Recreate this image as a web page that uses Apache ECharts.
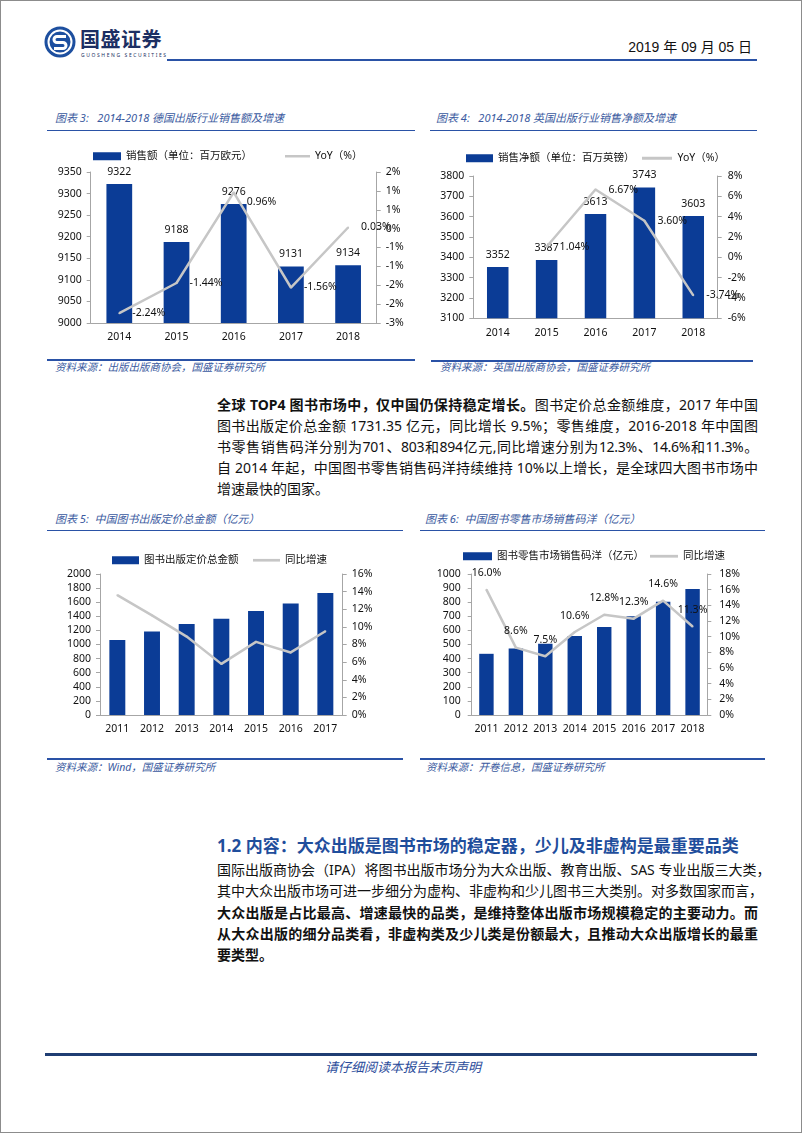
<!DOCTYPE html>
<html>
<head>
<meta charset="utf-8">
<script src="https://cdn.jsdelivr.net/npm/echarts@6/dist/echarts.min.js"></script>
<style>
  html, body { margin:0; padding:0; background:#fff; }
  body { width:802px; height:1133px; position:relative; overflow:hidden;
         font-family:"Noto Sans","Noto Sans CJK SC",sans-serif; }
  .abs { position:absolute; }
  .frame { left:0; top:0; width:802px; height:1133px; box-sizing:border-box; border:1px solid #8c8c8c; }
  .hline { position:absolute; background:#2a52a6; }
  .ctitle { position:absolute; font-size:11px; font-style:italic; color:#3a5aa0; white-space:nowrap; line-height:14px; }
  .src { position:absolute; font-size:10.5px; font-style:italic; color:#3a5aa0; white-space:nowrap; line-height:14px; }
  .chart { position:absolute; width:380px; height:220px; }
  .pl { position:absolute; left:217px; width:541px; height:21px; line-height:21px; font-size:14px; color:#111;
        white-space:nowrap; text-align:justify; text-align-last:justify; }
  .pl.last { text-align:left; text-align-last:left; }
  .pl b { font-weight:700; }
</style>
</head>
<body>
<div class="abs frame"></div>

<!-- header -->
<svg class="abs" style="left:44px;top:26px" width="32" height="32" viewBox="0 0 32 32">
  <circle cx="16" cy="16" r="15.5" fill="#1d4f9f"/>
  <circle cx="16" cy="16" r="11.5" fill="none" stroke="#fff" stroke-width="2"/>
  <path d="M22 10.5 H13 a3 3 0 0 0 0 6 H19 a3 3 0 0 1 0 6 H10" fill="none" stroke="#fff" stroke-width="3"/>
</svg>
<div class="abs" style="left:80px;top:28px;font-size:20px;font-weight:700;color:#1c2f63;letter-spacing:0.5px;line-height:24px;">国盛证券</div>
<div class="abs" style="left:81px;top:52px;font-size:5px;color:#1c2f63;letter-spacing:1.6px;line-height:6px;white-space:nowrap;">GUOSHENG SECURITIES</div>
<div class="abs" style="left:600px;width:152px;top:38px;text-align:right;font-size:14px;color:#111;line-height:18px;white-space:nowrap;font-family:'Liberation Sans','Noto Sans CJK SC',sans-serif;">2019 年 09 月 05 日</div>
<div class="hline" style="left:167px;top:59px;width:590px;height:2px;"></div>

<!-- chart 3 / 4 frames -->
<div class="ctitle" style="left:55px;top:111px;">图表 3:&nbsp;&nbsp;&nbsp;2014-2018 德国出版行业销售额及增速</div>
<div class="hline" style="left:47px;top:130px;width:368px;height:1px;"></div>
<div class="ctitle" style="left:436px;top:111px;">图表 4:&nbsp;&nbsp;&nbsp;2014-2018 英国出版行业销售净额及增速</div>
<div class="hline" style="left:430px;top:130px;width:327px;height:1px;"></div>
<div id="c3" class="chart" style="left:40px;top:135px;"></div>
<div id="c4" class="chart" style="left:420px;top:135px;"></div>
<div class="hline" style="left:47px;top:359px;width:368px;height:2px;"></div>
<div class="src" style="left:55px;top:360px;">资料来源：出版出版商协会，国盛证券研究所</div>
<div class="hline" style="left:431px;top:360px;width:322px;height:2px;"></div>
<div class="src" style="left:440px;top:360px;">资料来源：英国出版商协会，国盛证券研究所</div>

<!-- paragraph 1 -->
<div class="pl" style="top:394px;"><b>全球 TOP4 图书市场中，仅中国仍保持稳定增长。</b>图书定价总金额维度，2017 年中国</div>
<div class="pl" style="top:415px;">图书出版定价总金额 1731.35 亿元，同比增长 9.5%；零售维度，2016-2018 年中国图</div>
<div class="pl" style="top:436px;letter-spacing:-0.3px;">书零售销售码洋分别为701、803和894亿元,同比增速分别为12.3%、14.6%和11.3%。</div>
<div class="pl" style="top:457px;">自 2014 年起，中国图书零售销售码洋持续维持 10%以上增长，是全球四大图书市场中</div>
<div class="pl last" style="top:478px;">增速最快的国家。</div>

<!-- chart 5 / 6 frames -->
<div class="ctitle" style="left:55px;top:512px;">图表 5:&nbsp;&nbsp;中国图书出版定价总金额（亿元）</div>
<div class="hline" style="left:47px;top:530px;width:356px;height:1px;"></div>
<div class="ctitle" style="left:425px;top:512px;">图表 6:&nbsp;&nbsp;中国图书零售市场销售码洋（亿元）</div>
<div class="hline" style="left:420px;top:530px;width:345px;height:1px;"></div>
<div id="c5" class="chart" style="left:40px;top:535px;"></div>
<div id="c6" class="chart" style="left:420px;top:535px;"></div>
<div class="hline" style="left:47px;top:758px;width:356px;height:2px;"></div>
<div class="src" style="left:55px;top:760px;">资料来源：Wind，国盛证券研究所</div>
<div class="hline" style="left:420px;top:758px;width:345px;height:2px;"></div>
<div class="src" style="left:426px;top:760px;">资料来源：开卷信息，国盛证券研究所</div>

<!-- section 1.2 -->
<div class="abs" style="left:217px;top:834px;font-size:17px;font-weight:700;color:#1f4e9c;white-space:nowrap;line-height:24px;">1.2 内容：大众出版是图书市场的稳定器，少儿及非虚构是最重要品类</div>
<div class="pl" style="top:859px;">国际出版商协会（IPA）将图书出版市场分为大众出版、教育出版、SAS 专业出版三大类，</div>
<div class="pl" style="top:880px;">其中大众出版市场可进一步细分为虚构、非虚构和少儿图书三大类别。对多数国家而言，</div>
<div class="pl" style="top:902px;"><b>大众出版是占比最高、增速最快的品类，是维持整体出版市场规模稳定的主要动力。而</b></div>
<div class="pl" style="top:923px;"><b>从大众出版的细分品类看，非虚构类及少儿类是份额最大，且推动大众出版增长的最重</b></div>
<div class="pl last" style="top:944px;"><b>要类型。</b></div>

<!-- footer -->
<div class="hline" style="left:45px;top:1053px;width:712px;height:3px;background:#1f3d73;"></div>
<div class="abs" style="left:250px;width:306px;top:1058px;text-align:center;font-size:13px;font-style:italic;color:#2b4c9b;line-height:18px;">请仔细阅读本报告末页声明</div>

<script>
// ---------- data ----------
const deYears = ['2014', '2015', '2016', '2017', '2018'];
const deSales = [9322, 9188, 9276, 9131, 9134];
const deYoY = [-2.24, -1.44, 0.96, -1.56, 0.03];

const ukYears = ['2014', '2015', '2016', '2017', '2018'];
const ukSales = [3352, 3387, 3613, 3743, 3603];
const ukYoY = [null, 1.04, 6.67, 3.60, -3.74];

const cnPubYears = ['2011', '2012', '2013', '2014', '2015', '2016', '2017'];
const cnPub = [1063.06, 1183.37, 1289.28, 1363.49, 1476.09, 1581.02, 1731.35];
const cnPubYoY = [13.6, 11.3, 8.9, 5.8, 8.3, 7.1, 9.5];

const cnRetailYears = ['2011', '2012', '2013', '2014', '2015', '2016', '2017', '2018'];
const cnRetail = [434, 471, 506, 560, 624, 701, 803, 894];
const cnRetailYoY = [16.0, 8.6, 7.5, 10.6, 12.8, 12.3, 14.6, 11.3];

// ---------- styles ----------
const BAR = '#0b3c96';
const LINE = '#c6c6c6';
const AX = '#a6a6a6';
const FONT = '"Noto Sans","Noto Sans CJK SC",sans-serif';
const NUM = { fontFamily: FONT, fontSize: 10.5, color: '#111' };

function yAxis(min, max, interval, fmt, margin, pos) {
  return {
    type: 'value', min, max, interval, position: pos,
    splitLine: { show: false },
    axisLine: { show: true, lineStyle: { color: AX, width: 1 } },
    axisTick: { show: true, length: 4, lineStyle: { color: AX } },
    axisLabel: Object.assign({ margin, formatter: fmt }, NUM)
  };
}
function xAxis(cats) {
  return {
    type: 'category', data: cats,
    axisLine: { show: true, onZero: false, lineStyle: { color: AX, width: 1 } },
    axisTick: { show: false },
    axisLabel: Object.assign({ margin: 9, interval: 0 }, NUM)
  };
}
function legends(barName, barLeft, barW, lineName, lineLeft, lineW, top) {
  const ts = { fontFamily: FONT, fontSize: 10.5, color: '#111' };
  return [
    { data: [{ name: barName, icon: 'rect' }], left: barLeft, top, padding: 0,
      itemWidth: barW, itemHeight: 8, textStyle: ts, selectedMode: false },
    { data: [{ name: lineName, icon: 'path://M0,0 H30 V3 H0 Z', itemStyle: { color: LINE, opacity: 1 } }],
      left: lineLeft, top, padding: 0,
      itemWidth: lineW, itemHeight: 3, textStyle: ts, selectedMode: false }
  ];
}
const roundPct = v => { const r = Math.sign(v) * Math.round(Math.abs(v)); return (r === 0 ? 0 : r) + '%'; };

function lineSeries(name, data, label) {
  const s = {
    name, type: 'line', yAxisIndex: 1, data,
    symbol: 'circle', symbolSize: 2, showSymbol: true, showAllSymbol: true,
    lineStyle: { color: LINE, width: 2.5 },
    itemStyle: { color: LINE },
    emphasis: { disabled: true }
  };
  if (label) s.label = label;
  return s;
}

// ---------- chart 3 ----------
echarts.init(document.getElementById('c3')).setOption({
  animation: false,
  legend: legends('销售额（单位：百万欧元）', 53, 28, 'YoY（%）', 245, 25, 16),
  grid: { left: 50.7, top: 37, width: 286, height: 151 },
  xAxis: xAxis(deYears),
  yAxis: [yAxis(9000, 9350, 50, v => v, 9, 'left'),
          yAxis(-2.5, 1.5, 0.5, roundPct, 9, 'right')],
  series: [
    { name: '销售额（单位：百万欧元）', type: 'bar', data: deSales, barWidth: '45%',
      itemStyle: { color: BAR },
      label: Object.assign({ show: true, position: 'top', distance: 7 }, NUM) },
    lineSeries('YoY（%）',
      deYoY.map((v, i) => i === 2 ? { value: v, label: { offset: [0, 10] } } : v),
      Object.assign({ show: true, position: 'right', distance: 12, formatter: p => p.value.toFixed(2) + '%' }, NUM))
  ]
});

// ---------- chart 4 ----------
echarts.init(document.getElementById('c4')).setOption({
  animation: false,
  legend: legends('销售净额（单位：百万英镑）', 46, 27, 'YoY（%）', 222, 31, 18),
  grid: { left: 53.3, top: 41, width: 244.4, height: 142.3 },
  xAxis: xAxis(ukYears),
  yAxis: [yAxis(3100, 3800, 100, v => v, 9, 'left'),
          yAxis(-6, 8, 2, v => v + '%', 10, 'right')],
  series: [
    { name: '销售净额（单位：百万英镑）', type: 'bar', data: ukSales, barWidth: '44%',
      itemStyle: { color: BAR },
      label: Object.assign({ show: true, position: 'top', distance: 7 }, NUM) },
    lineSeries('YoY（%）', ukYoY,
      Object.assign({ show: true, position: 'right', distance: 12, formatter: p => p.value.toFixed(2) + '%' }, NUM))
  ]
});

// ---------- chart 5 ----------
echarts.init(document.getElementById('c5')).setOption({
  animation: false,
  legend: legends('图书出版定价总金额', 72, 27, '同比增速', 213, 27, 20),
  grid: { left: 60, top: 39, width: 242.7, height: 141 },
  xAxis: xAxis(cnPubYears),
  yAxis: [yAxis(0, 2000, 200, v => v, 9, 'left'),
          yAxis(0, 16, 2, v => v + '%', 9, 'right')],
  series: [
    { name: '图书出版定价总金额', type: 'bar', data: cnPub, barWidth: '46%', itemStyle: { color: BAR } },
    lineSeries('同比增速', cnPubYoY, null)
  ]
});

// ---------- chart 6 ----------
echarts.init(document.getElementById('c6')).setOption({
  animation: false,
  legend: legends('图书零售市场销售码洋（亿元）', 43, 29, '同比增速', 230, 28, 16),
  grid: { left: 51.7, top: 39, width: 235.6, height: 141 },
  xAxis: xAxis(cnRetailYears),
  yAxis: [yAxis(0, 1000, 100, v => v, 11, 'left'),
          yAxis(0, 18, 2, v => v + '%', 12, 'right')],
  series: [
    { name: '图书零售市场销售码洋（亿元）', type: 'bar', data: cnRetail, barWidth: '49%', itemStyle: { color: BAR } },
    lineSeries('同比增速', cnRetailYoY,
      Object.assign({ show: true, position: 'top', distance: 10, formatter: p => p.value.toFixed(1) + '%' }, NUM))
  ]
});
</script>
</body>
</html>
